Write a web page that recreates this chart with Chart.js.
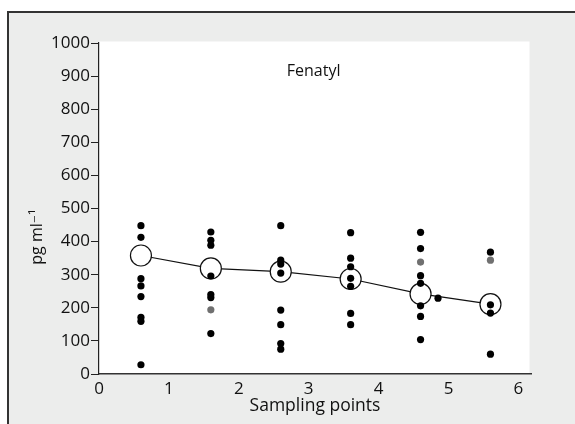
<!DOCTYPE html>
<html>
<head>
<meta charset="utf-8">
<script src="https://cdn.jsdelivr.net/npm/chart.js@4"></script>
<style>
  html, body { margin: 0; padding: 0; background: #fff; }
  #wrap { position: absolute; left: 0; top: 0; width: 575px; height: 424px; }
</style>
</head>
<body>
<div id="wrap"><canvas id="myChart" width="575" height="424"></canvas></div>
<script>
// sampling point positions and tick labels
const xPos = [0.6, 1.6, 2.6, 3.6, 4.6, 5.6];
const xTicks = [0, 1, 2, 3, 4, 5, 6];
const yTicks = [0, 100, 200, 300, 400, 500, 600, 700, 800, 900, 1000];

// individual samples per sampling point (pg/ml)
const s1 = [448, 413, 288, 266, 234, 171, 159, 28];
const s2 = [429, 404, 389, 296, 240, 231, 122];
const s3 = [448, 344, 332, 305, 193, 149, 92, 75];
const s4 = [427, 350, 324, 289, 265, 183, 149];
const s5 = [428, 379, 297, 274, 206, 174, 104];
const s6 = [368, 209, 184, 60];
// faint (grey) samples
const greyX = [1.6, 4.6, 5.6];
const greyY = [194, 338, 344];
// stray sample next to point 5
const extraX = [4.85];
const extraY = [229];

// mean per sampling point
const meanY = [358, 319, 309, 287, 242, 211];

const samples = [s1, s2, s3, s4, s5, s6];
const dots = [];
samples.forEach((arr, i) => {
  arr.forEach(v => dots.push({ x: xPos[i], y: v }));
});
extraX.forEach((x, i) => dots.push({ x: x, y: extraY[i] }));
const greyDots = greyX.map((x, i) => ({ x: x, y: greyY[i] }));
const meanPts = xPos.map((x, i) => ({ x: x, y: meanY[i] }));

const FONT = "'Open Sans', 'DejaVu Sans', sans-serif";

const frame = {
  id: "frame",
  beforeDraw(chart) {
    const c = chart.ctx;
    const a = chart.chartArea;
    c.save();
    c.fillStyle = "#fff";
    c.fillRect(0, 0, chart.width, chart.height);
    c.fillStyle = "#ecedec";
    c.fillRect(9, 13, chart.width, chart.height);
    c.fillStyle = "#333";
    c.fillRect(7, 11, chart.width, 2);
    c.fillRect(7, 11, 2, chart.height);
    c.fillStyle = "#fff";
    c.fillRect(a.left, a.top - 1.5, a.right - a.left - 1.5, a.bottom - a.top + 1.5);
    c.restore();
  },
  afterDraw(chart) {
    const c = chart.ctx;
    const xs = chart.scales.x, ys = chart.scales.y;
    c.save();
    c.fillStyle = "#111";
    c.textAlign = "center";
    c.textBaseline = "alphabetic";
    c.font = "16px " + FONT;
    c.fillText("Fenatyl", xs.getPixelForValue(3.07), ys.getPixelForValue(900));
    c.font = "17.5px " + FONT;
    c.fillText("Sampling points", (xs.left + xs.right) / 2, 410.5);
    c.translate(42, 237);
    c.rotate(-Math.PI / 2);
    c.font = "16px " + FONT;
    c.fillText("pg ml\u207B\u00B9", 0, 0);
    c.restore();
  }
};

new Chart(document.getElementById("myChart").getContext("2d"), {
  type: "scatter",
  data: {
    datasets: [
      {
        data: dots,
        backgroundColor: "#000",
        borderColor: "#000",
        pointRadius: 3.6,
        borderWidth: 0
      },
      {
        data: greyDots,
        backgroundColor: "#707070",
        borderColor: "#707070",
        pointRadius: 3.6,
        borderWidth: 0
      },
      {
        data: meanPts,
        showLine: true,
        borderColor: "#111",
        borderWidth: 1.2,
        backgroundColor: "#fff",
        pointBorderColor: "#111",
        pointBorderWidth: 1.2,
        pointRadius: 10.5
      }
    ]
  },
  options: {
    responsive: false,
    animation: false,
    events: [],
    layout: { padding: { left: 0, top: 43, right: 44, bottom: 0 } },
    plugins: { legend: { display: false }, tooltip: { enabled: false } },
    scales: {
      x: {
        type: "linear",
        min: 0,
        max: 6.18,
        afterBuildTicks: s => { s.ticks = xTicks.map(v => ({ value: v })); },
        afterFit: s => { s.height = 50; },
        grid: { drawOnChartArea: false, drawTicks: false },
        border: { display: true, color: "#333", width: 1.5 },
        ticks: { color: "#111", padding: 5, font: { family: FONT, size: 17 } }
      },
      y: {
        min: 0,
        max: 1000,
        afterBuildTicks: s => { s.ticks = yTicks.map(v => ({ value: v })); },
        afterFit: s => { s.width = 99; },
        grid: { drawOnChartArea: false, drawTicks: true, tickLength: 8, color: "#222" },
        border: { display: true, color: "#222", width: 1.2 },
        ticks: {
          color: "#111",
          padding: 1,
          font: { family: FONT, size: 17 },
          callback: v => String(v)
        }
      }
    }
  },
  plugins: [frame]
});
</script>
</body>
</html>
